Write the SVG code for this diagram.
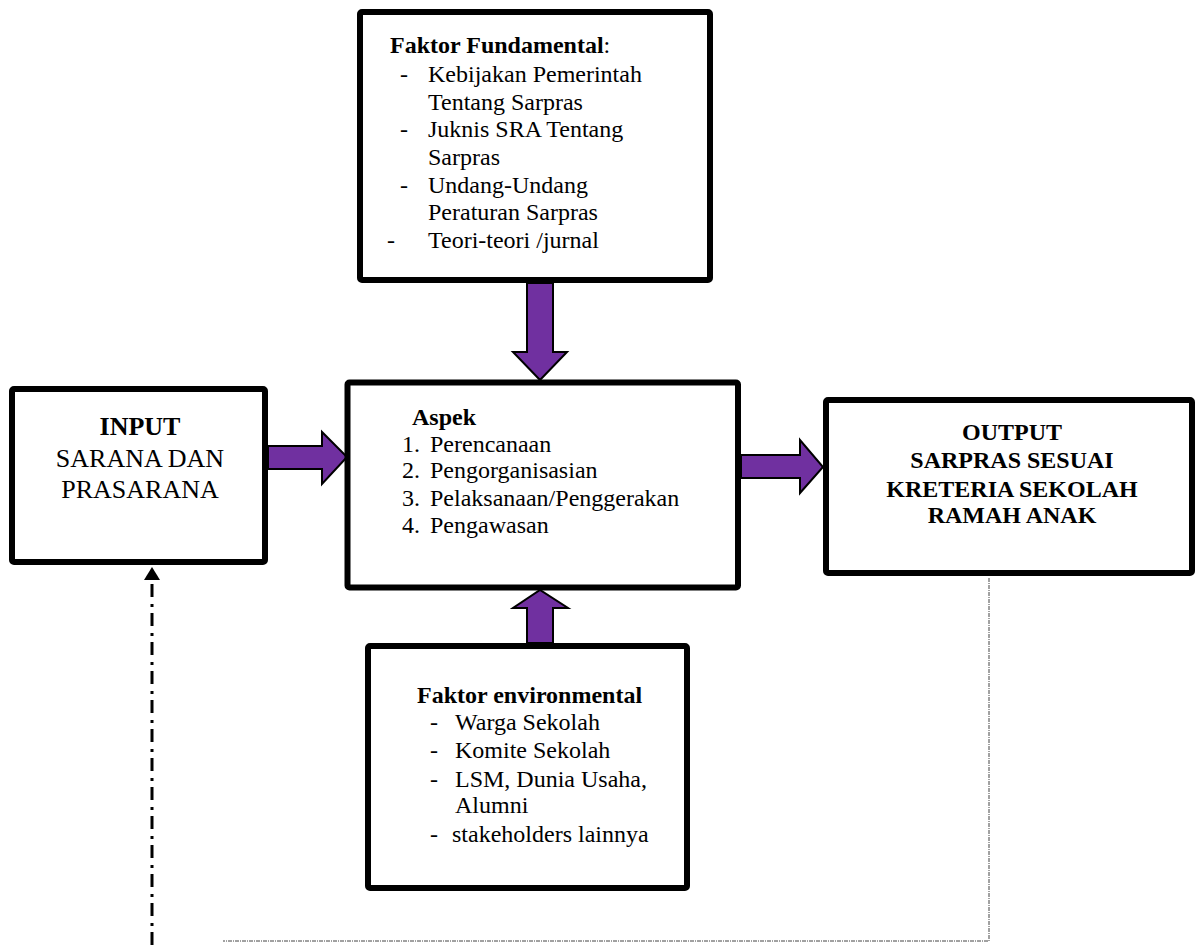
<svg xmlns="http://www.w3.org/2000/svg" width="1203" height="945" viewBox="0 0 1203 945">
<style>
.box{fill:#fff;stroke:#000;stroke-width:6;stroke-linejoin:round}
.arr{fill:#7030a0;stroke:#000;stroke-width:2;stroke-linejoin:miter}
text{font-family:"Liberation Serif","Times New Roman",serif;fill:#000}
.t{font-size:24px}
.b{font-weight:bold}
.big{font-size:26px}
.dd{fill:none;stroke:#000;stroke-width:3;stroke-dasharray:13 6 3 7}
.dt{fill:none;stroke:#444;stroke-width:1;stroke-dasharray:4 1 1 1}
</style>
<g id="connectors">
<path class="arr" d="M527,283 L553,283 L553,352 L567,352 L540,380 L513,352 L527,352 Z"/>
<path class="arr" d="M527,643 L553,643 L553,608 L568,608 L540,590 L513,608 L527,608 Z"/>
<path class="arr" d="M268,446 L322,446 L322,432 L347,457 L322,484 L322,469 L268,469 Z"/>
<path class="arr" d="M741,455 L800,455 L800,440 L823,467 L800,493 L800,478 L741,478 Z"/>
<path class="dt" d="M989,578 L989,941 L223,941"/>
<path class="dd" d="M152,945 L152,580"/>
<path d="M144,580 L152,567 L160,580 Z" fill="#000"/>
</g>
<g id="fundamental">
<rect class="box" x="360" y="12" width="350" height="268" rx="2"/>
<text class="t" x="390" y="53"><tspan class="b">Faktor Fundamental</tspan>:</text>
<text class="t" x="400" y="82">-</text><text class="t" x="428" y="82">Kebijakan Pemerintah</text>
<text class="t" x="428" y="110">Tentang Sarpras</text>
<text class="t" x="400" y="137">-</text><text class="t" x="428" y="137">Juknis SRA Tentang</text>
<text class="t" x="428" y="165">Sarpras</text>
<text class="t" x="400" y="193">-</text><text class="t" x="428" y="193">Undang-Undang</text>
<text class="t" x="428" y="220">Peraturan Sarpras</text>
<text class="t" x="387" y="248">-</text><text class="t" x="428" y="248">Teori-teori /jurnal</text>
</g>
<g id="input">
<rect class="box" x="12" y="389" width="253" height="173" rx="2"/>
<text class="big b" x="140" y="435" text-anchor="middle">INPUT</text>
<text class="big" x="140" y="467" text-anchor="middle">SARANA DAN</text>
<text class="big" x="140" y="498" text-anchor="middle">PRASARANA</text>
</g>
<g id="aspek">
<rect class="box" x="347.5" y="382.5" width="390.5" height="205" rx="2"/>
<text class="t b" x="412" y="425">Aspek</text>
<text class="t" x="402" y="452">1.</text><text class="t" x="430" y="452">Perencanaan</text>
<text class="t" x="402" y="478">2.</text><text class="t" x="430" y="478">Pengorganisasian</text>
<text class="t" x="402" y="506">3.</text><text class="t" x="430" y="506">Pelaksanaan/Penggerakan</text>
<text class="t" x="402" y="533">4.</text><text class="t" x="430" y="533">Pengawasan</text>
</g>
<g id="output">
<rect class="box" x="826" y="400" width="366" height="173" rx="2"/>
<text class="t b" x="1012" y="440" text-anchor="middle">OUTPUT</text>
<text class="t b" x="1012" y="468" text-anchor="middle">SARPRAS SESUAI</text>
<text class="t b" x="1012" y="497" text-anchor="middle">KRETERIA SEKOLAH</text>
<text class="t b" x="1012" y="523" text-anchor="middle">RAMAH ANAK</text>
</g>
<g id="environmental">
<rect class="box" x="368" y="646" width="319" height="242" rx="2"/>
<text class="t b" x="417" y="703">Faktor environmental</text>
<text class="t" x="430" y="730">-</text><text class="t" x="455" y="730">Warga Sekolah</text>
<text class="t" x="430" y="758">-</text><text class="t" x="455" y="758">Komite Sekolah</text>
<text class="t" x="430" y="787">-</text><text class="t" x="455" y="787">LSM, Dunia Usaha,</text>
<text class="t" x="455" y="813">Alumni</text>
<text class="t" x="430" y="842">-</text><text class="t" x="452" y="842">stakeholders lainnya</text>
</g>
</svg>
